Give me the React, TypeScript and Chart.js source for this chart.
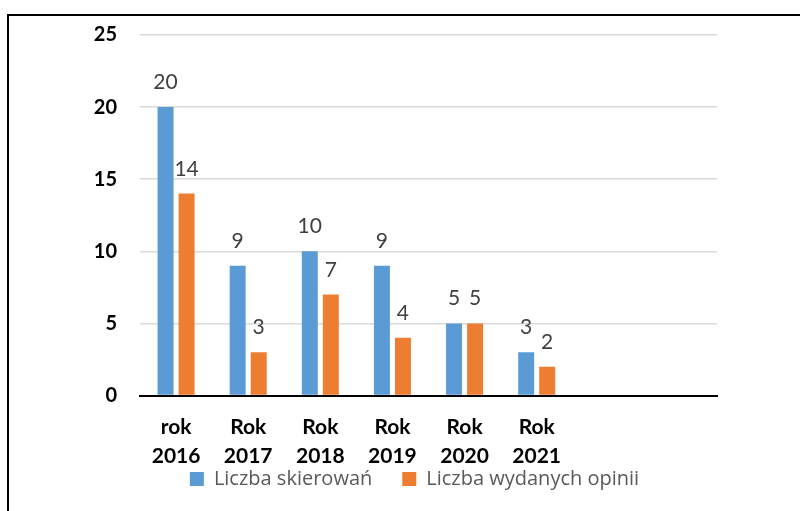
import React, { useEffect, useRef } from "react";
import { Chart, registerables } from "chart.js";

Chart.register(...registerables);

const categories: string[][] = [
  ["rok", "2016"],
  ["Rok", "2017"],
  ["Rok", "2018"],
  ["Rok", "2019"],
  ["Rok", "2020"],
  ["Rok", "2021"],
  [""],
  [""],
];
const skierowan: (number | null)[] = [20, 9, 10, 9, 5, 3, null, null];
const opinii: (number | null)[] = [14, 3, 7, 4, 5, 2, null, null];
const seriesNames = ["Liczba skierowań", "Liczba wydanych opinii"];
const yTicksMax = 25;
const yStep = 5;

const FONT = "Lato, 'Open Sans', 'DejaVu Sans', sans-serif";
const LEGEND_FONT = "'Open Sans', 'DejaVu Sans', sans-serif";

const valueLabels = {
  id: "valueLabels",
  afterDatasetsDraw(chart: any) {
    const ctx = chart.ctx;
    ctx.save();
    ctx.font = `21px ${FONT}`;
    ctx.fillStyle = "#404040";
    ctx.textAlign = "center";
    ctx.textBaseline = "alphabetic";
    chart.data.datasets.forEach((ds: any, i: number) => {
      const meta = chart.getDatasetMeta(i);
      meta.data.forEach((el: any, j: number) => {
        const v = ds.data[j];
        if (v === null || v === undefined) return;
        ctx.fillText(String(v), el.x, el.y - 18);
      });
    });
    ctx.restore();
  },
};

export default function App() {
  const ref = useRef<HTMLCanvasElement | null>(null);
  useEffect(() => {
    if (!ref.current) return;
    const chart = new Chart(ref.current, {
      type: "bar",
      data: {
        labels: categories,
        datasets: [
          {
            label: seriesNames[0],
            data: skierowan,
            backgroundColor: "#5B9BD5",
            barPercentage: 0.76,
            categoryPercentage: 0.583,
          },
          {
            label: seriesNames[1],
            data: opinii,
            backgroundColor: "#ED7D31",
            barPercentage: 0.76,
            categoryPercentage: 0.583,
          },
        ],
      },
      options: {
        responsive: false,
        animation: false,
        devicePixelRatio: 1,
        layout: { padding: { left: 29, right: 0, top: 34, bottom: 12 } },
        plugins: {
          tooltip: { enabled: false },
          legend: {
            position: "bottom",
            labels: {
              boxWidth: 14,
              boxHeight: 14,
              padding: 0,
              color: "#595959",
              font: { family: LEGEND_FONT, size: 20 },
              generateLabels(chart: any) {
                const items = Chart.defaults.plugins.legend.labels.generateLabels(chart);
                return items.map((it: any, i: number) => ({
                  ...it,
                  lineWidth: 0,
                  text: i < items.length - 1 ? it.text + "\u2002\u2002\u2002" : it.text,
                }));
              },
            },
          },
        },
        scales: {
          x: {
            grid: { display: false, drawTicks: false },
            border: { display: true, color: "#000000", width: 2 },
            ticks: {
              color: "#000000",
              padding: 17,
              maxRotation: 0,
              autoSkip: false,
              font: { family: FONT, size: 21, weight: "bold", lineHeight: 1.4 },
            },
            afterFit(scale: any) {
              scale.height = 73.5;
            },
          },
          y: {
            min: 0,
            max: yTicksMax,
            grid: { color: "#D9D9D9", lineWidth: 1.5, drawTicks: false },
            border: { display: false },
            ticks: {
              stepSize: yStep,
              color: "#000000",
              padding: 23,
              font: { family: FONT, size: 20, weight: "bold" },
            },
            afterFit(scale: any) {
              scale.width = 111;
            },
          },
          yRight: {
            position: "right",
            display: true,
            grid: { display: false, drawTicks: false },
            border: { display: false },
            ticks: { display: false },
            afterFit(scale: any) {
              scale.width = 83;
            },
          },
        },
      },
      plugins: [valueLabels],
    });
    return () => chart.destroy();
  }, []);

  return (
    <div style={{ position: "fixed", left: 0, top: 0, width: 800, height: 511, background: "#fff", overflow: "hidden" }}>
      <canvas ref={ref} width={800} height={511} style={{ position: "absolute", left: 0, top: 0 }} />
      <div
        style={{
          position: "absolute",
          left: 7,
          top: 14,
          width: 820,
          height: 520,
          borderTop: "2px solid #000",
          borderLeft: "2px solid #000",
          pointerEvents: "none",
        }}
      />
    </div>
  );
}
